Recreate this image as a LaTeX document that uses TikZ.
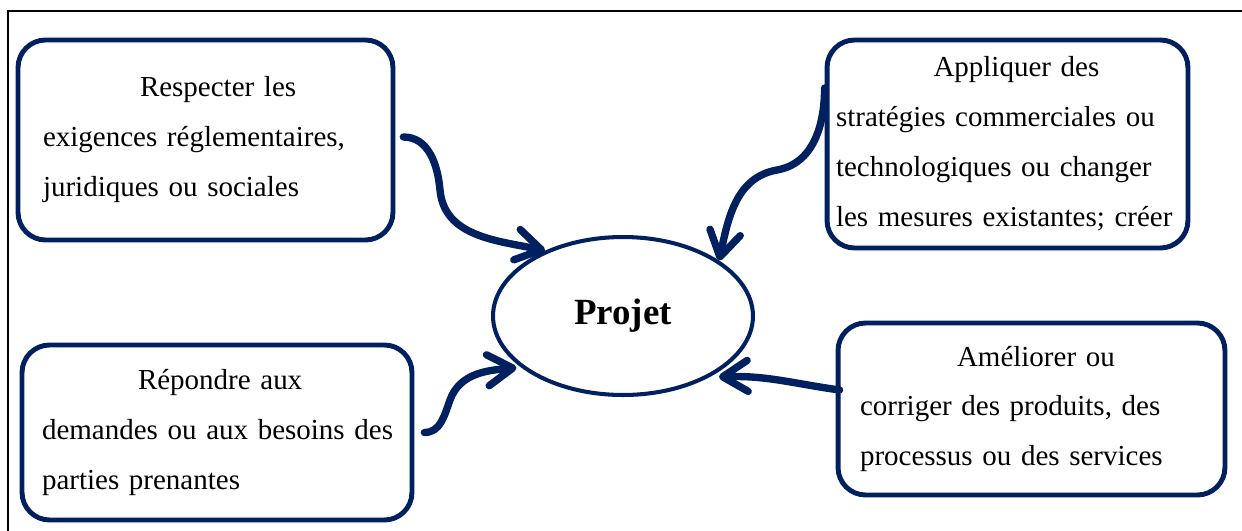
\documentclass[tikz,border=0pt]{standalone}
\usepackage{fontspec}
\setmainfont{Liberation Serif}
\usetikzlibrary{arrows.meta, shapes.geometric}
\definecolor{bleunuit}{RGB}{0,32,96}

\begin{document}
\begin{tikzpicture}[x=0.02cm, y=0.02cm, >={Straight Barb[length=0.5cm, width=0.62cm, round]},
    boite/.style={draw=bleunuit, line width=2.8pt, rounded corners=0.55cm, align=left, inner ysep=0pt, font=\fontsize{16.5}{28.45}\selectfont},
    fleche/.style={->, draw=bleunuit, line width=4.2pt, line cap=round}]

    \useasboundingbox (0,0) rectangle (1242,-531);

    % cadre
    \draw[line width=0.6pt] (8,-531) -- (8,-11) -- (1242,-11);

    % ellipse du milieu
    \node[ellipse, draw=bleunuit, line width=2.3pt, minimum width=5.2cm, minimum height=3.16cm, inner sep=0pt, font=\fontsize{21}{25}\selectfont\bfseries] (projet) at (623,-316) {Projet};

    % les quatre boites
    \node[boite, text width=6.5cm, inner xsep=0.5cm, minimum height=4cm] (respecter) at (205.5,-140) {\hspace*{1.94cm}Respecter les\\exigences réglementaires,\\juridiques ou sociales};
    \node[boite, text width=6.86cm, inner xsep=0.18cm, minimum height=4.16cm] (appliquer) at (1007.5,-144) {\hspace*{1.95cm}Appliquer des\\stratégies commerciales ou\\technologiques ou changer\\les mesures existantes; créer};
    \node[boite, text width=7cm, inner xsep=0.4cm, minimum height=3.5cm] (repondre) at (217,-432.5) {\hspace*{1.92cm}Répondre aux\\\mbox{demandes ou aux besoins des}\\parties prenantes};
    \node[boite, text width=6.86cm, inner xsep=0.44cm, minimum height=3.44cm] (ameliorer) at (1031.5,-409) {\hspace*{1.94cm}Améliorer ou\\corriger des produits, des\\processus ou des services};

    % fleches vers le projet
    \coordinate (c1) at (440,-190);
    \coordinate (c2) at (777,-170);
    \coordinate (c3) at (450,-400);

    \draw[fleche] ([xshift=0.16cm, yshift=0.06cm]respecter.east) to[out=0, in=95] (c1) to[out=-85, in=168] (projet.140);
    \draw[fleche] ([yshift=1.12cm]appliquer.west) to[out=-90, in=10] (c2) to[out=190, in=78] (projet.30);
    \draw[fleche] ([xshift=0.2cm]repondre.east) to[out=0, in=-110] (c3) to[out=70, in=185] ([xshift=-0.1cm]projet.207);
    \draw[fleche] ([xshift=0.08cm, yshift=0.38cm]ameliorer.west) to[out=172, in=2] ([xshift=0.18cm]projet.325);
\end{tikzpicture}
\end{document}
